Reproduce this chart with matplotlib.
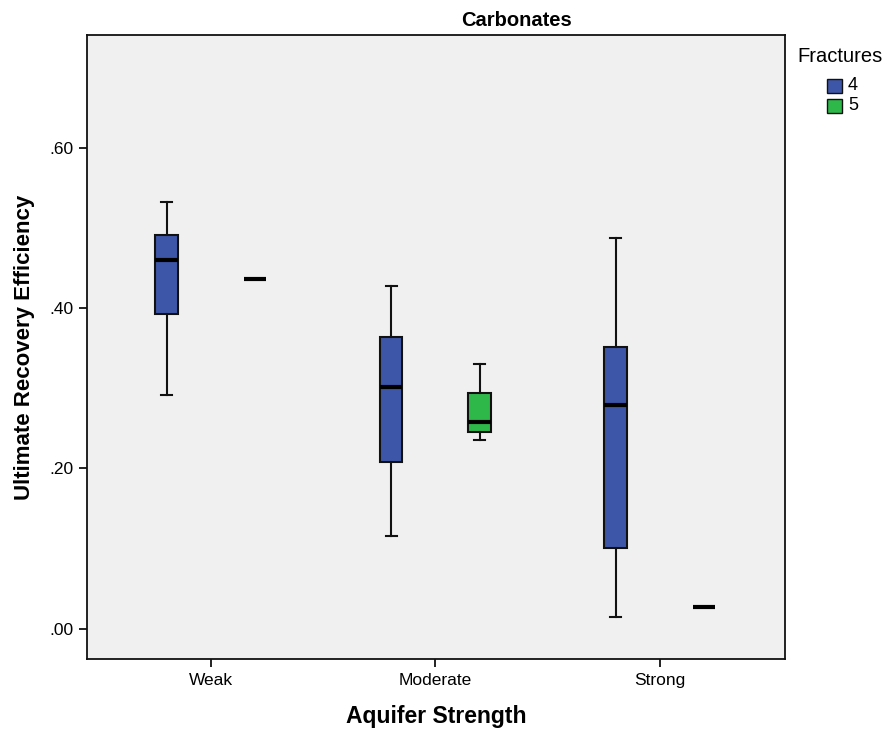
import matplotlib
matplotlib.use("Agg")
import matplotlib.pyplot as plt
from matplotlib.patches import Rectangle

plt.rcParams['font.family'] = ['Liberation Sans', 'DejaVu Sans']

categories = ["Weak", "Moderate", "Strong"]
fractures = ["4", "5"]
colors = {"4": "#3D56A8", "5": "#2EB84A"}

# five-number summaries per (category, fracture): whislo, q1, med, q3, whishi
stats_4 = {
    "Weak":     [0.292, 0.393, 0.460, 0.491, 0.533],
    "Moderate": [0.115, 0.208, 0.301, 0.364, 0.428],
    "Strong":   [0.015, 0.100, 0.279, 0.351, 0.488],
}
stats_5 = {
    "Weak":     [0.436, 0.436, 0.436, 0.436, 0.436],
    "Moderate": [0.235, 0.246, 0.258, 0.294, 0.330],
    "Strong":   [0.027, 0.027, 0.027, 0.027, 0.027],
}
yticks = [0.0, 0.2, 0.4, 0.6]
ytick_labels = [".00", ".20", ".40", ".60"]

W, H = 891, 731
fig = plt.figure(figsize=(W / 100, H / 100), dpi=100)
ax = fig.add_axes([87 / W, 1 - 659 / H, (785 - 87) / W, (659 - 35) / H])
ax.set_facecolor("#F0F0F0")

offset = 0.197
bw = 0.10
for gi, (frac, st) in enumerate([("4", stats_4), ("5", stats_5)]):
    sign = -1 if gi == 0 else 1
    for ci, cat in enumerate(categories):
        lo, q1, med, q3, hi = st[cat]
        pos = ci + sign * offset
        single = (lo == hi)
        d = dict(whislo=lo, q1=q1, med=med, q3=q3, whishi=hi, fliers=[])
        ax.bxp([d], positions=[pos], widths=bw, patch_artist=True,
               showcaps=not single, showbox=not single,
               boxprops=dict(facecolor=colors[frac], edgecolor="#111111", linewidth=1.5),
               whiskerprops=dict(color="#111111", linewidth=1.5),
               capprops=dict(color="#111111", linewidth=1.5),
               capwidths=bw / 2,
               medianprops=dict(color="black", linewidth=3.0, solid_capstyle="butt"),
               manage_ticks=False)

ax.set_xlim(-0.552, 2.557)
ax.set_ylim(-0.038, 0.741)
ax.set_xticks(range(len(categories)))
ax.set_xticklabels(categories, fontsize=12.5)
ax.set_yticks(yticks)
ax.set_yticklabels(ytick_labels, fontsize=12.5)
ax.tick_params(axis="both", direction="out", length=6, width=1.3, color="#111111", pad=4)
for s in ax.spines.values():
    s.set_linewidth(1.3)
    s.set_color("#111111")

ax.set_xlabel("Aquifer Strength", fontsize=16.5, fontweight="bold", labelpad=12)
ax.set_ylabel("Ultimate Recovery Efficiency", fontsize=16, fontweight="bold", labelpad=10)

fig.text(517 / W, 1 - 20 / H, "Carbonates", ha="center", va="center",
         fontsize=14.5, fontweight="bold")

# legend
fig.text(797 / W, 1 - 57 / H, "Fractures", ha="left", va="center", fontsize=14.5)
for i, frac in enumerate(fractures):
    yc = 86 + 20 * i
    fig.patches.append(Rectangle((827 / W, 1 - (yc + 7) / H), 15 / W, 14 / H,
                                 transform=fig.transFigure, facecolor=colors[frac],
                                 edgecolor="#111111", linewidth=1.0))
    fig.text(848 / W, 1 - yc / H, frac, ha="left", va="center", fontsize=13)

fig.savefig("out.png", dpi=100)
